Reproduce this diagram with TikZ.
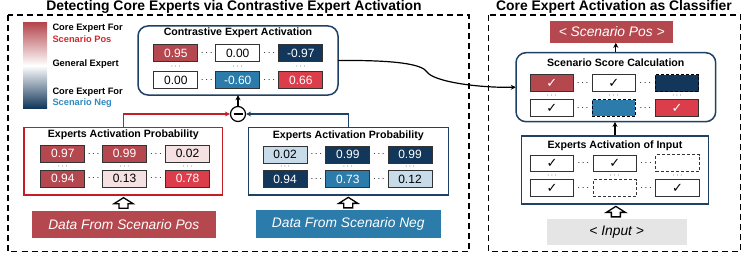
\documentclass[tikz,border=0pt]{standalone}
\usepackage{fontspec}
\setmainfont{Liberation Sans}
\newfontfamily\chkfont{DejaVu Sans}
\usetikzlibrary{arrows.meta,calc}
\definecolor{redmuted}{HTML}{B5484F}
\definecolor{redbright}{HTML}{DB3D4B}
\definecolor{navy}{HTML}{13375A}
\definecolor{bluemid}{HTML}{2B7BAB}
\definecolor{lightblue}{HTML}{C8DBE9}
\definecolor{lightpink}{HTML}{F5E1E1}
\definecolor{boxnavy}{HTML}{1F4165}
\definecolor{redborder}{HTML}{C41E24}
\definecolor{postext}{HTML}{D3262D}
\definecolor{negtext}{HTML}{3189BF}
\definecolor{inputgray}{HTML}{E5E5E5}
\definecolor{cellborder}{HTML}{333333}
\newcommand{\chk}{{\chkfont\fontsize{13}{13}\selectfont ✓}}
\begin{document}
\begin{tikzpicture}[x=1pt,y=-1pt,
  bigtitle/.style={font=\bfseries\fontsize{13.9}{14}\selectfont,anchor=base,inner sep=0},
  boxtitle/.style={font=\bfseries\fontsize{10.6}{11}\selectfont,inner sep=0},
  legtext/.style={font=\bfseries\fontsize{9.3}{9.3}\selectfont,anchor=west,inner sep=0},
  cell/.style={rectangle,draw=cellborder,line width=0.8pt,minimum width=44pt,minimum height=17pt,inner sep=0,font=\fontsize{12}{12}\selectfont},
  ccell/.style={cell,minimum width=43.5pt,minimum height=16.8pt},
  chkcell/.style={ccell,text height=8pt,text depth=0pt},
  dcell/.style={ccell,line width=0.9pt,dash pattern=on 3pt off 2pt},
  hdots/.style={inner sep=0,font=\fontsize{10}{10}\selectfont},
  vdots/.style={inner sep=0,font=\fontsize{8.5}{8.5}\selectfont},
  panel/.style={draw=black,line width=1.4pt,dash pattern=on 6pt off 4pt},
  bluebox/.style={draw=boxnavy,line width=1.5pt,fill=white},
  datatext/.style={text=white,font=\itshape\fontsize{13.8}{14}\selectfont,inner sep=0},
  arr/.style={line width=1.2pt,-{Stealth[length=5pt,width=5pt]}},
  hollowup/.pic={\draw[line width=1.3pt,fill=white,line join=miter] (-4.5,5)--(-4.5,0.5)--(-9.5,0.5)--(0,-5.5)--(9.5,0.5)--(4.5,0.5)--(4.5,5)--cycle;}
]
\useasboundingbox (0,0) rectangle (747,254);

% titles
\node[bigtitle] (t1) at (234,10.5) {Detecting Core Experts via Contrastive Expert Activation};
\node[bigtitle] (t2) at (614,10.5) {Core Expert Activation as Classifier};

% dashed panels
\draw[panel] (8,15) rectangle (469,251.5);
\draw[panel] (488.3,15) rectangle (740.7,251.5);

% legend
\shade[top color=redmuted,bottom color=white,middle color=redmuted!50!white] (23,23) rectangle (47,65.5);
\shade[top color=white,bottom color=navy,middle color=navy!50!white] (23,65.5) rectangle (47,108);
\node[legtext] (lg1) at (52.3,28) {Core Expert For};
\node[legtext,text=postext] (lg2) at (52.3,39) {Scenario Pos};
\node[legtext] (lg3) at (52.3,64) {General Expert};
\node[legtext] (lg4) at (52.3,92) {Core Expert For};
\node[legtext,text=negtext] (lg5) at (52.3,103) {Scenario Neg};

% contrastive box
\draw[bluebox,rounded corners=10pt] (138,26) rectangle (338,95);
\node[inner sep=0,minimum width=200pt,minimum height=69pt] (ca) at (238,60.5) {};
\node[boxtitle] (cat) at (238,33) {Contrastive Expert Activation};
\node[cell,fill=redmuted,text=white] (c11) at (175.8,53.3) {0.95};
\node[cell,fill=white] (c12) at (237.7,53.3) {0.00};
\node[cell,fill=navy,text=white] (c13) at (300.8,53.3) {-0.97};
\node[cell,fill=white] (c21) at (175.8,80) {0.00};
\node[cell,fill=bluemid,text=white] (c22) at (237.7,80) {-0.60};
\node[cell,fill=redbright,text=white] (c23) at (300.8,80) {0.66};
\node[hdots] (cd1) at ($(c11.east)!0.5!(c12.west)$) {$\cdots$};
\node[hdots] (cd2) at ($(c12.east)!0.5!(c13.west)$) {$\cdots$};
\node[hdots] (cd3) at ($(c21.east)!0.5!(c22.west)$) {$\cdots$};
\node[hdots] (cd4) at ($(c22.east)!0.5!(c23.west)$) {$\cdots$};
\node[vdots] (cv1) at ($(c11.south)!0.5!(c21.north)$) {$\cdots$};
\node[vdots] (cv2) at ($(c12.south)!0.5!(c22.north)$) {$\cdots$};
\node[vdots] (cv3) at ($(c13.south)!0.5!(c23.north)$) {$\cdots$};

% minus circle
\node[circle,draw=black,line width=1.2pt,fill=white,minimum size=15pt,inner sep=0] (minus) at (238,114) {};
\draw[line width=1.1pt] ($(minus.center)+(-4.5,0)$) -- ($(minus.center)+(4.5,0)$);

% left probability box
\node[draw=redborder,line width=1.6pt,fill=white,minimum width=198.7pt,minimum height=67.7pt,inner sep=0] (lp) at (123.3,161.2) {};
\node[boxtitle] (lpt) at (123.3,135) {Experts Activation Probability};
\node[cell,fill=redmuted,text=white] (l11) at (62.8,153.8) {0.97};
\node[cell,fill=redmuted,text=white] (l12) at (124.5,153.8) {0.99};
\node[cell,fill=lightpink] (l13) at (187.5,153.8) {0.02};
\node[cell,fill=redmuted,text=white] (l21) at (62.8,178.7) {0.94};
\node[cell,fill=lightpink] (l22) at (124.5,178.7) {0.13};
\node[cell,fill=redbright,text=white] (l23) at (187.5,178.7) {0.78};
\node[hdots] at ($(l11.east)!0.5!(l12.west)$) {$\cdots$};
\node[hdots] at ($(l12.east)!0.5!(l13.west)$) {$\cdots$};
\node[hdots] at ($(l21.east)!0.5!(l22.west)$) {$\cdots$};
\node[hdots] at ($(l22.east)!0.5!(l23.west)$) {$\cdots$};
\node[vdots] at ($(l11.south)!0.5!(l21.north)$) {$\cdots$};
\node[vdots] at ($(l12.south)!0.5!(l22.north)$) {$\cdots$};
\node[vdots] at ($(l13.south)!0.5!(l23.north)$) {$\cdots$};

% right probability box
\node[draw=boxnavy,line width=1.6pt,fill=white,minimum width=200pt,minimum height=67.7pt,inner sep=0] (rp) at (348.3,161.2) {};
\node[boxtitle] (rpt) at (348.3,136) {Experts Activation Probability};
\node[cell,fill=lightblue] (r11) at (285,154.5) {0.02};
\node[cell,fill=navy,text=white] (r12) at (347.8,154.5) {0.99};
\node[cell,fill=navy,text=white] (r13) at (410,154.5) {0.99};
\node[cell,fill=navy,text=white] (r21) at (285,179) {0.94};
\node[cell,fill=bluemid,text=white] (r22) at (347.8,179) {0.73};
\node[cell,fill=lightblue] (r23) at (410,179) {0.12};
\node[hdots] at ($(r11.east)!0.5!(r12.west)$) {$\cdots$};
\node[hdots] at ($(r12.east)!0.5!(r13.west)$) {$\cdots$};
\node[hdots] at ($(r21.east)!0.5!(r22.west)$) {$\cdots$};
\node[hdots] at ($(r22.east)!0.5!(r23.west)$) {$\cdots$};
\node[vdots] at ($(r11.south)!0.5!(r21.north)$) {$\cdots$};
\node[vdots] at ($(r12.south)!0.5!(r22.north)$) {$\cdots$};
\node[vdots] at ($(r13.south)!0.5!(r23.north)$) {$\cdots$};

% data boxes
\node[fill=redmuted,minimum width=184.3pt,minimum height=27.6pt,inner sep=0] (dpos) at (123.8,224.5) {};
\node[datatext] at (dpos.center) {Data From Scenario Pos};
\node[fill=bluemid,minimum width=184.7pt,minimum height=28.3pt,inner sep=0] (dneg) at (348.3,224.2) {};
\node[datatext] at (dneg.center) {Data From Scenario Neg};
\pic at ($(lp.south)!0.5!(dpos.north)$) {hollowup};
\pic at ($(rp.south)!0.5!(dneg.north)$) {hollowup};

% connectors to minus
\draw[redborder,line width=1.5pt,-{Stealth[length=5pt,width=5pt]}] (lp.north) |- (minus.west);
\draw[boxnavy,line width=1.5pt,-{Stealth[length=5pt,width=5pt]}] (rp.north) |- (minus.east);
\draw[arr] (minus.north) -- (ca.south);

% right panel
\node[fill=redmuted,minimum width=123.3pt,minimum height=21.7pt,inner sep=0] (spos) at (611.7,31.8) {};
\node[datatext] at (spos.center) {< Scenario Pos >};

\draw[bluebox,rounded corners=10pt] (516,52.7) rectangle (715.7,121.7);
\node[inner sep=0,minimum width=199.7pt,minimum height=69pt] (sc) at (615.8,87.2) {};
\node[boxtitle] (sct) at (615.8,63) {Scenario Score Calculation};
\node[chkcell,fill=redmuted,text=white] (s11) at (551.7,83.3) {\chk};
\node[chkcell,fill=white] (s12) at (613.7,83.3) {\chk};
\node[dcell,fill=navy,draw=black] (s13) at (677,83.3) {};
\node[chkcell,fill=white] (s21) at (551.7,108) {\chk};
\node[dcell,fill=bluemid,draw=black] (s22) at (613.7,108) {};
\node[chkcell,fill=redbright,text=white] (s23) at (677,108) {\chk};
\node[hdots] at ($(s11.east)!0.5!(s12.west)$) {$\cdots$};
\node[hdots] at ($(s12.east)!0.5!(s13.west)$) {$\cdots$};
\node[hdots] at ($(s21.east)!0.5!(s22.west)$) {$\cdots$};
\node[hdots] at ($(s22.east)!0.5!(s23.west)$) {$\cdots$};
\node[vdots] at ($(s11.south)!0.5!(s21.north)$) {$\cdots$};
\node[vdots] at ($(s12.south)!0.5!(s22.north)$) {$\cdots$};
\node[vdots] at ($(s13.south)!0.5!(s23.north)$) {$\cdots$};

\node[draw=boxnavy,line width=1.2pt,fill=white,minimum width=186.6pt,minimum height=68pt,inner sep=0] (act) at (615,170) {};
\node[boxtitle] (actt) at (615,145.7) {Experts Activation of Input};
\node[chkcell,fill=white] (a11) at (552,163.3) {\chk};
\node[chkcell,fill=white] (a12) at (614.7,163.3) {\chk};
\node[dcell,fill=white] (a13) at (677.5,163.3) {};
\node[chkcell,fill=white] (a21) at (552,188) {\chk};
\node[dcell,fill=white] (a22) at (614.7,188) {};
\node[chkcell,fill=white] (a23) at (677.5,188) {\chk};
\node[hdots] at ($(a11.east)!0.5!(a12.west)$) {$\cdots$};
\node[hdots] at ($(a12.east)!0.5!(a13.west)$) {$\cdots$};
\node[hdots] at ($(a21.east)!0.5!(a22.west)$) {$\cdots$};
\node[hdots] at ($(a22.east)!0.5!(a23.west)$) {$\cdots$};
\node[vdots] at ($(a11.south)!0.5!(a21.north)$) {$\cdots$};
\node[vdots] at ($(a12.south)!0.5!(a22.north)$) {$\cdots$};
\node[vdots] at ($(a13.south)!0.5!(a23.north)$) {$\cdots$};

\node[fill=inputgray,minimum width=140pt,minimum height=25.7pt,inner sep=0] (inp) at (616.7,232.2) {};
\node[datatext,text=black] at (inp.center) {< Input >};
\pic at ($(act.south)!0.5!(inp.north)$) {hollowup};

\draw[arr] (act.north) -- (act.north |- sc.south);
\draw[arr] (sc.north) -- (sc.north |- spos.south);

% curved connector
\coordinate (kink) at (427,72);
\draw[arr] (ca.east) .. controls (395,60) and (422,64) .. (kink) .. controls (434,82) and (480,88) .. (sc.west);
\end{tikzpicture}
\end{document}
